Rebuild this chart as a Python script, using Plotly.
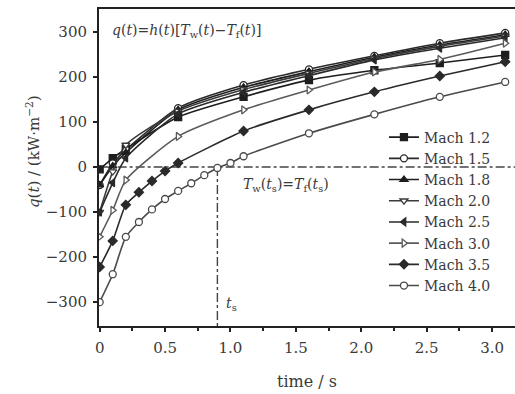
import plotly.graph_objects as go

# Sampling times (s)
t_main = [0, 0.1, 0.2, 0.6, 1.1, 1.6, 2.1, 2.6, 3.1]
t_m35 = [0, 0.1, 0.2, 0.3, 0.4, 0.5, 0.6, 1.1, 1.6, 2.1, 2.6, 3.1]
t_m40 = [0, 0.1, 0.2, 0.3, 0.4, 0.5, 0.6, 0.7, 0.8, 0.9, 1.0, 1.1, 1.6, 2.1, 2.6, 3.1]

# Heat flux q(t), kW/m^2
q_m12 = [-5, 20, 40, 111, 156, 193, 215, 231, 249]
q_m15 = [-40, 8, 38, 131, 182, 217, 247, 275, 298]
q_m18 = [-40, 2, 32, 127, 177, 212, 244, 271, 294]
q_m20 = [-100, -10, 49, 124, 172, 208, 241, 268, 291]
q_m25 = [-100, -35, 20, 118, 166, 203, 238, 264, 287]
q_m30 = [-155, -96, -29, 68, 127, 171, 211, 239, 275]
q_m35 = [-222, -164, -84, -56, -31, -9, 9, 80, 127, 167, 202, 234]
q_m40 = [-300, -238, -155, -122, -94, -71, -53, -36, -18, -2, 9, 24, 75, 117, 156, 189]

labels = ["Mach 1.2", "Mach 1.5", "Mach 1.8", "Mach 2.0",
          "Mach 2.5", "Mach 3.0", "Mach 3.5", "Mach 4.0"]

# Switch time where wall and fluid temperatures are equal
t_s = 0.9

x_ticks = [0, 0.5, 1.0, 1.5, 2.0, 2.5, 3.0]
x_ticktext = ["0", "0.5", "1.0", "1.5", "2.0", "2.5", "3.0"]
y_ticks = [-300, -200, -100, 0, 100, 200, 300]

FONT = "DejaVu Serif"
INK = "#3a3a3a"

# (times, values, name, marker symbol, filled?, colour)
series = [
    (t_main, q_m12, labels[0], "square", True, "#1e1e1e"),
    (t_main, q_m15, labels[1], "circle", False, "#2a2a2a"),
    (t_main, q_m18, labels[2], "triangle-up", True, "#1e1e1e"),
    (t_main, q_m20, labels[3], "triangle-down", False, "#3a3a3a"),
    (t_main, q_m25, labels[4], "triangle-left", True, "#2a2a2a"),
    (t_main, q_m30, labels[5], "triangle-right", False, "#5a5a5a"),
    (t_m35, q_m35, labels[6], "diamond", True, "#2a2a2a"),
    (t_m40, q_m40, labels[7], "circle", False, "#4a4a4a"),
]

fig = go.Figure()

# Reference lines at q = 0 and t = t_s
fig.add_trace(go.Scatter(
    x=[0, 3.2], y=[0, 0], mode="lines",
    line=dict(color="#444444", width=1.4, dash="dashdot"),
    showlegend=False, hoverinfo="skip"))
fig.add_trace(go.Scatter(
    x=[t_s, t_s], y=[0, -360], mode="lines",
    line=dict(color="#444444", width=1.4, dash="dashdot"),
    showlegend=False, hoverinfo="skip"))

for t, q, name, sym, filled, col in series:
    fig.add_trace(go.Scatter(
        x=t, y=q, name=name, mode="lines+markers",
        line=dict(color=col, width=1.6, shape="spline", smoothing=0.6),
        marker=dict(symbol=sym, size=7,
                    color=col if filled else "white",
                    line=dict(color=col, width=1.3)),
    ))

fig.update_layout(
    width=515, height=394,
    margin=dict(l=99, r=0, t=9, b=68),
    paper_bgcolor="white", plot_bgcolor="white",
    font=dict(family=FONT, size=15, color=INK),
    showlegend=True,
    legend=dict(
        x=0.685, y=0.645, xanchor="left", yanchor="top",
        bgcolor="rgba(0,0,0,0)", borderwidth=0,
        font=dict(family=FONT, size=14, color=INK),
        tracegroupgap=0, itemwidth=30,
    ),
    xaxis=dict(
        range=[-0.005, 3.175], showgrid=False, zeroline=False,
        showline=True, linecolor="#222222", linewidth=2, mirror=True,
        ticks="outside", ticklen=4, tickcolor="#222222", tickwidth=1.5,
        tickvals=x_ticks, ticktext=x_ticktext, ticklabelstandoff=3,
        minor=dict(dtick=0.25, tick0=0, ticks="outside", ticklen=3,
                   tickcolor="#222222"),
        tickfont=dict(family=FONT, size=15, color=INK),
    ),
    yaxis=dict(
        range=[-353, 351], showgrid=False, zeroline=False,
        showline=True, linecolor="#222222", linewidth=2,
        ticks="outside", ticklen=4, tickcolor="#222222", tickwidth=1.5,
        tickvals=y_ticks, ticklabelstandoff=3,
        tickfont=dict(family=FONT, size=15, color=INK),
    ),
    annotations=[
        dict(xref="paper", yref="paper", x=-0.16, y=0.55,
             xanchor="center", yanchor="middle", textangle=-90,
             showarrow=False,
             text="<i>q</i>(<i>t</i>) / (kW·m<sup>−2</sup>)",
             font=dict(family=FONT, size=15, color=INK)),
        dict(xref="paper", yref="paper", x=0.5, y=-0.175,
             xanchor="center", yanchor="middle", showarrow=False,
             text="time / s",
             font=dict(family=FONT, size=16, color=INK)),
        dict(xref="paper", yref="paper", x=0.027, y=0.93,
             xanchor="left", yanchor="middle", showarrow=False,
             text="<i>q</i>(<i>t</i>)=<i>h</i>(<i>t</i>)[<i>T</i><sub>w</sub>(<i>t</i>)−<i>T</i><sub>f</sub>(<i>t</i>)]",
             font=dict(family=FONT, size=14, color=INK)),
        dict(xref="x", yref="y", x=1.08, y=-40,
             xanchor="left", yanchor="middle", showarrow=False,
             text="<i>T</i><sub>w</sub>(<i>t</i><sub>s</sub>)=<i>T</i><sub>f</sub>(<i>t</i><sub>s</sub>)",
             font=dict(family=FONT, size=14, color=INK)),
        dict(xref="x", yref="y", x=t_s + 0.05, y=-305,
             xanchor="left", yanchor="middle", showarrow=False,
             text="<i>t</i><sub>s</sub>",
             font=dict(family=FONT, size=14, color=INK)),
    ],
)

fig.write_html("out.html")
